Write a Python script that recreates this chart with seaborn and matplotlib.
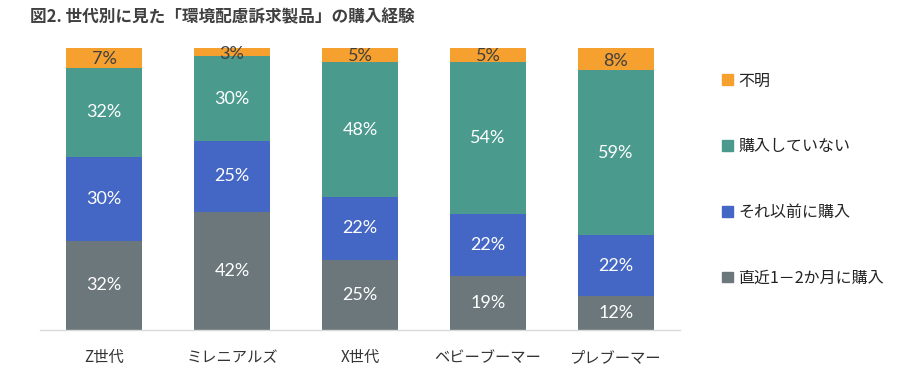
import numpy as np
import pandas as pd
import matplotlib
matplotlib.use("Agg")
import matplotlib.pyplot as plt
import seaborn as sns
from matplotlib.patches import Patch

generations = ["Z世代", "ミレニアルズ", "X世代", "ベビーブーマー", "プレブーマー"]
recent = [32, 42, 25, 19, 12]        # 直近1－2か月に購入
earlier = [30, 25, 22, 22, 22]       # それ以前に購入
never = [32, 30, 48, 54, 59]         # 購入していない
unknown = [7, 3, 5, 5, 8]            # 不明

series_names = ["直近1－2か月に購入", "それ以前に購入", "購入していない", "不明"]
series_values = [recent, earlier, never, unknown]
colors = ["#6b777b", "#4466c4", "#4a9a8d", "#f5a02f"]
label_colors = ["white", "white", "white", "#404040"]

sns.set_theme(style="white")
plt.rcParams["font.family"] = ["Noto Sans CJK JP", "DejaVu Sans"]

fig = plt.figure(figsize=(9.04, 3.68), dpi=100)
ax = fig.add_axes([40 / 904, 1 - 330 / 368, 640 / 904, (330 - 48) / 368])

vals = np.array(series_values, dtype=float)
# 100% stacked: each bar scaled to its own total
shares = vals / vals.sum(axis=0) * 100
cum = np.cumsum(shares, axis=0)

# draw from the top segment down so each stack shows through
for i in range(len(series_names) - 1, -1, -1):
    df = pd.DataFrame({"gen": generations, "val": cum[i]})
    sns.barplot(data=df, x="gen", y="val", color=colors[i], width=0.59,
                saturation=1, ax=ax, linewidth=0)

for i in range(len(series_names)):
    for j in range(len(generations)):
        mid = cum[i][j] - shares[i][j] / 2
        if i == 3:
            mid -= 0.5
        ax.text(j, mid, f"{int(vals[i][j])}%", ha="center", va="center",
                fontsize=13, color=label_colors[i],
                family=["Lato", "DejaVu Sans"])

ax.set_xlim(-0.5, 4.5)
ax.set_ylim(0, 100)
ax.set_xlabel("")
ax.set_ylabel("")
ax.set_yticks([])
for s in ["top", "right", "left"]:
    ax.spines[s].set_visible(False)
ax.spines["bottom"].set_color("#d9d9d9")
ax.spines["bottom"].set_linewidth(1)
ax.tick_params(axis="x", length=0, pad=14, labelsize=11, labelcolor="#333333")

handles = [Patch(color=colors[i]) for i in range(3, -1, -1)]
labels = [series_names[i] for i in range(3, -1, -1)]
fig.legend(handles, labels, loc="upper left", bbox_to_anchor=(708 / 904, 1 - 58 / 368),
           frameon=False, fontsize=11.5, handlelength=0.65, handleheight=0.65,
           handletextpad=0.35, labelspacing=3.05, labelcolor="#222222")

fig.text(30 / 904, 1 - 17 / 368, "図2. 世代別に見た「環境配慮訴求製品」の購入経験",
         fontsize=12, fontweight="bold", color="#404040", va="center", ha="left")

fig.savefig("out.png", dpi=100)
